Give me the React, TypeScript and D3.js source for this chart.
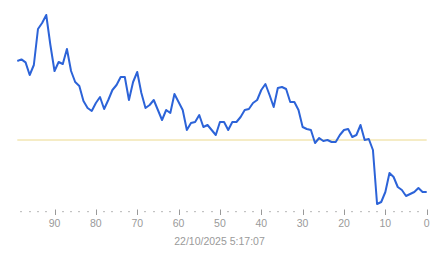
import React from "react";
import * as d3 from "d3";

const ages: number[] = Array.from({ length: 100 }, (_, i) => 99 - i);
const values: number[] = [
  74.5, 75.3, 73.8, 67.5, 72.5, 90.5, 93.5, 97.5, 82.5, 69.5,
  74, 73, 80.5, 69.5, 64, 62, 54.5, 51, 49.5, 53.5,
  56.5, 50.5, 55, 60, 62.5, 66.5, 66.5, 55, 64, 69,
  58.5, 51, 52.5, 55, 50, 45, 50, 48.5, 58, 54,
  50, 40, 43.5, 44, 47.5, 41.5, 42.5, 40, 37.5, 44,
  44, 40, 44, 44, 46.5, 50, 50.5, 53.5, 55, 60,
  63, 57.5, 51.5, 61, 61.5, 60.5, 54, 54, 50, 41.5,
  40.5, 40, 33.5, 36, 34.5, 35, 34, 34, 37.5, 40,
  40.5, 36.5, 37.5, 42.5, 35, 35.5, 30, 3, 4, 9,
  18.5, 16.5, 11.5, 10, 7, 8, 9, 11, 9, 9,
];
const referenceValue = 35;
const majorTicks: number[] = [90, 80, 70, 60, 50, 40, 30, 20, 10, 0];
const minorTicks: number[] = d3.range(98, 0, -2).filter((t) => t % 10 !== 0);
const timestampLabel = "22/10/2025 5:17:07";

export default function App() {
  const W = 443;
  const H = 258;
  const x = d3.scaleLinear().domain([99, 0]).range([17.3, 426.7]);
  const y = d3.scaleLinear().domain([0, 100]).range([210, 10]);
  const line = d3
    .line<number>()
    .x((_, i) => x(ages[i]))
    .y((d) => y(d));
  const font = "'Liberation Sans', Arial, sans-serif";
  return (
    <svg
      width={W}
      height={H}
      style={{ position: "absolute", left: 0, top: 0, background: "#fff" }}
    >
      <line
        x1={x(99)}
        x2={x(0)}
        y1={y(referenceValue)}
        y2={y(referenceValue)}
        stroke="#ecd98c"
        strokeWidth={1}
      />
      <path
        d={line(values) || ""}
        fill="none"
        stroke="#2c63d8"
        strokeWidth={2}
        strokeLinejoin="round"
      />
      {minorTicks.map((t) => (
        <rect
          key={"m" + t}
          x={Math.round(x(t)) - 0.5}
          y={211}
          width={1}
          height={1.2}
          fill="#888"
        />
      ))}
      {majorTicks.map((t) => (
        <g key={"t" + t}>
          <line
            x1={Math.round(x(t)) + 0.5}
            x2={Math.round(x(t)) + 0.5}
            y1={209.5}
            y2={215}
            stroke="#999"
            strokeWidth={1}
          />
          <text
            x={x(t)}
            y={226.5}
            textAnchor="middle"
            fontSize={10.5}
            fontFamily={font}
            fill="#9a9a9a"
          >
            {t}
          </text>
        </g>
      ))}
      <text
        x={219.5}
        y={244.5}
        textAnchor="middle"
        fontSize={10.5}
        fontFamily={font}
        fill="#9a9a9a"
      >
        {timestampLabel}
      </text>
    </svg>
  );
}
